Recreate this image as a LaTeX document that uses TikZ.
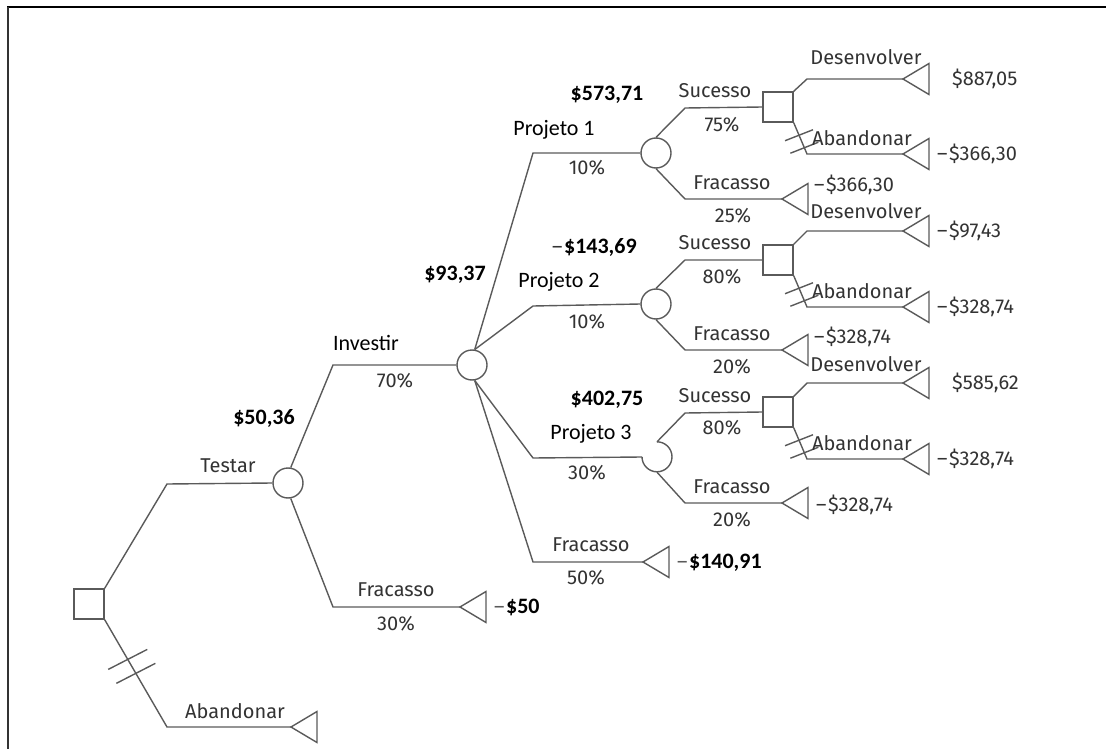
\documentclass[tikz,border=0pt]{standalone}
\usepackage{fontspec}
\setmainfont{Fira Sans}
\newfontfamily\calib{Carlito}
\usetikzlibrary{calc}
\definecolor{ln}{HTML}{5A5A5A}
\definecolor{tx}{HTML}{333333}
\newcommand{\mns}{–\kern1.5pt}
\begin{document}
\begin{tikzpicture}[x=1pt,y=-1pt,
  br/.style={draw=ln,line width=1.4pt},
  chance/.style={circle,draw=ln,line width=1.4pt,minimum size=30pt,inner sep=0pt},
  dec/.style={rectangle,draw=ln,line width=1.4pt,minimum size=30pt,inner sep=0pt},
  lab/.style={font=\fontsize{20}{22}\selectfont,text=tx,inner sep=0pt},
  val/.style={font=\calib\fontsize{22}{24}\selectfont\bfseries,text=black,inner sep=0pt},
  prj/.style={font=\calib\fontsize{22}{24}\selectfont,text=black,inner sep=0pt}
]
\useasboundingbox (0,0) rectangle (1106,749);
\draw[line width=2.5pt,black] (7,7) -- (1106,7);
\draw[line width=2pt,black!80] (8,7) -- (8,749);

% decision / chance nodes
\node[dec] (s0) at (89,604) {};
\node[chance] (c1) at (288,483) {};
\node[chance] (c2) at (472,365) {};
\node[chance] (c3) at (656,153) {};
\node[chance] (c4) at (656,304) {};
\node[circle,minimum size=30pt,inner sep=0pt] (c5) at (657,457) {};
\draw[br] (c5.north) arc[start angle=90,end angle=-180,radius=15pt];
\node[dec] (s1) at (778,107) {};
\node[dec] (s2) at (778,260) {};
\node[dec] (s3) at (778,412) {};

% terminals (apex points of the end triangles)
\coordinate (t0) at (291,727);
\coordinate (t1) at (460,607);
\coordinate (t2) at (643,562);
\coordinate (t3) at (782,199);
\coordinate (t4) at (782,350);
\coordinate (t5) at (782,503);
\coordinate (t6) at (903,79);
\coordinate (t7) at (903,154);
\coordinate (t8) at (903,231);
\coordinate (t9) at (903,307);
\coordinate (t10) at (903,383);
\coordinate (t11) at (903,459);
\foreach \t in {t0,t1,t2,t3,t4,t5,t6,t7,t8,t9,t10,t11}
  \draw[br,line join=miter] (\t) -- ++(26,-15.5) -- ++(0,31) -- cycle;

% bends
\coordinate (b0) at (167,484);
\coordinate (b0a) at (167,727);
\coordinate (b1) at (333,365);
\coordinate (b1a) at (333,607);
\coordinate (b2) at (533,153);
\coordinate (b3) at (533,306);
\coordinate (b4) at (533,458);
\coordinate (b5) at (533,562);
\coordinate (b6) at (685,108);
\coordinate (b7) at (685,199);
\coordinate (b8) at (685,260);
\coordinate (b9) at (685,350);
\coordinate (b10) at (685,413);
\coordinate (b11) at (685,503);
\coordinate (d1) at (807,79);
\coordinate (d2) at (807,154);
\coordinate (d3) at (807,231);
\coordinate (d4) at (807,307);
\coordinate (d5) at (807,383);
\coordinate (d6) at (807,459);

% branches
\draw[br] (s0.north east) -- (b0) -- (c1.west);
\draw[br] (s0.south east) -- (b0a) -- (t0);
\draw[br] (c1.80) -- (b1) -- (c2.west);
\draw[br] (c1.-80) -- (b1a) -- (t1);
\draw[br] (c2.80) -- (b2) -- (c3.west);
\draw[br] (c2.80) -- (b3) -- (c4.west);
\draw[br] (c2.-80) -- (b4) -- (c5.west);
\draw[br] (c2.-80) -- (b5) -- (t2);
\draw[br] (c3.north) -- (b6) -- (s1.west);
\draw[br] (c3.south) -- (b7) -- (t3);
\draw[br] (c4.north) -- (b8) -- (s2.west);
\draw[br] (c4.south) -- (b9) -- (t4);
\draw[br] (c5.north) -- (b10) -- (s3.west);
\draw[br] (c5.south) -- (b11) -- (t5);
\draw[br] (s1.north east) -- (d1) -- (t6);
\draw[br] (s1.south east) -- (d2) -- (t7);
\draw[br] (s2.north east) -- (d3) -- (t8);
\draw[br] (s2.south east) -- (d4) -- (t9);
\draw[br] (s3.north east) -- (d5) -- (t10);
\draw[br] (s3.south east) -- (d6) -- (t11);

% blocked-branch marks
\foreach \p in {0.37,0.5}
  \draw[br] ($(s0.south east)!\p!(b0a)$) ++(-19.5,10) -- ++(39,-20);
\foreach \s/\d in {s1/d2,s2/d4,s3/d6}
  \foreach \p in {0.4,0.8}
    \draw[br] ($(\s.south east)!\p!(\d)$) ++(-14,5.5) -- ++(28,-11);

% labels
\node[lab] (l1) at (228,466) {Testar};
\node[lab] (l2) at (235,711) {Abandonar};
\node[val] (l3) at (264,418) {\$50,36};
\node[prj] (l4) at (366,343) {Investir};
\node[lab] (l5) at (395,381) {70\%};
\node[lab] (l6) at (396,590) {Fracasso};
\node[lab] (l7) at (396,624) {30\%};
\node[lab,anchor=west] (l8) at (494,607) {{\color{ln}\mns}\textcolor{black}{\calib\bfseries\fontsize{22}{24}\selectfont\$50}};
\node[val] (l9) at (607,95) {\$573,71};
\node[prj] (l10) at (554,130) {Projeto 1};
\node[lab] (l11) at (587,168) {10\%};
\node[val] (l12) at (455,275) {\$93,37};
\node[lab,anchor=west] (l13) at (552,247) {{\color{tx}\mns}\textcolor{black}{\calib\bfseries\fontsize{22}{24}\selectfont\$143,69}};
\node[prj] (l14) at (559,282) {Projeto 2};
\node[lab] (l15) at (587,322) {10\%};
\node[val] (l16) at (607,400) {\$402,75};
\node[prj] (l17) at (591,434) {Projeto 3};
\node[lab] (l18) at (587,473) {30\%};
\node[lab] (l19) at (591,545) {Fracasso};
\node[lab] (l20) at (586,578) {50\%};
\node[lab,anchor=west] (l21) at (677,563) {{\color{ln}\mns}\textcolor{black}{\calib\bfseries\fontsize{22}{24}\selectfont\$140,91}};

\node[lab] (l22) at (715,91) {Sucesso};
\node[lab] (l23) at (722,125) {75\%};
\node[lab] (l24) at (732,183) {Fracasso};
\node[lab] (l25) at (733,216) {25\%};
\node[lab] (l26) at (715,243) {Sucesso};
\node[lab] (l27) at (722,277) {80\%};
\node[lab] (l28) at (732,334) {Fracasso};
\node[lab] (l29) at (732,367) {20\%};
\node[lab] (l30) at (715,396) {Sucesso};
\node[lab] (l31) at (722,428) {80\%};
\node[lab] (l32) at (732,487) {Fracasso};
\node[lab] (l33) at (732,520) {20\%};

\node[lab] (l34) at (866,57) {Desenvolver};
\node[lab] (l35) at (862,138) {Abandonar};
\node[lab] (l36) at (866,211) {Desenvolver};
\node[lab] (l37) at (862,291) {Abandonar};
\node[lab] (l38) at (866,364) {Desenvolver};
\node[lab] (l39) at (862,443) {Abandonar};

\node[lab,anchor=west] (l40) at (952,79) {\$887,05};
\node[lab,anchor=west] (l41) at (937,154) {\mns\$366,30};
\node[lab,anchor=west] (l42) at (814,185) {\mns\$366,30};
\node[lab,anchor=west] (l43) at (937,231) {\mns\$97,43};
\node[lab,anchor=west] (l44) at (937,307) {\mns\$328,74};
\node[lab,anchor=west] (l45) at (814,337) {\mns\$328,74};
\node[lab,anchor=west] (l46) at (952,383) {\$585,62};
\node[lab,anchor=west] (l47) at (937,459) {\mns\$328,74};
\node[lab,anchor=west] (l48) at (816,505) {\mns\$328,74};
\end{tikzpicture}
\end{document}
